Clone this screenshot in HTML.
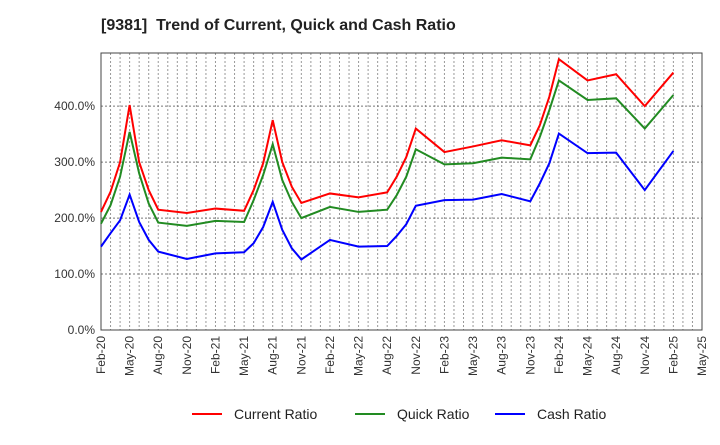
<!DOCTYPE html>
<html><head><meta charset="utf-8"><style>
body{margin:0;background:#fff;font-family:"Liberation Sans",sans-serif}
svg text{font-family:"Liberation Sans",sans-serif}
</style></head><body>
<svg id="chart" width="720" height="440" xmlns="http://www.w3.org/2000/svg">
<text x="101" y="30" font-size="16" font-weight="bold" fill="#222">[9381]&#160; Trend of Current, Quick and Cash Ratio</text>
<g id="grid"></g><g id="axes"></g><g id="series"></g>
<g>
<g><line x1="192" y1="414" x2="222" y2="414" stroke="#f00" stroke-width="2"/><text x="234" y="419" font-size="14" fill="#222">Current Ratio</text></g>
<g><line x1="355" y1="414" x2="385" y2="414" stroke="#228b22" stroke-width="2"/><text x="397" y="419" font-size="14" fill="#222">Quick Ratio</text></g>
<g><line x1="495" y1="414" x2="525" y2="414" stroke="#00f" stroke-width="2"/><text x="537" y="419" font-size="14" fill="#222">Cash Ratio</text></g>
</g>
</svg>
<script>
const monthIdx=[0,1,2,3,4,5,6,9,12,15,16,17,18,19,20,21,24,27,30,31,32,33,36,39,42,45,46,47,48,51,54,57,60];
const currentRatio=[211,247,300,402,300,250,215,209,217,213,250,298,375,300,256,227,244,237,246,274,309,360,318,328,339,330,366,417,484,446,457,400,460];
const quickRatio=[190,223,274,354,280,226,192,186,195,193,232,277,332,268,229,200,220,211,215,241,274,323,296,298,308,305,345,393,446,411,414,360,420];
const cashRatio=[149,173,196,242,193,161,140,127,137,139,155,184,229,179,146,126,161,149,150,168,189,222,232,233,243,230,262,298,351,316,317,250,320];
const yTicks=[0,100,200,300,400];
const xLabels=["Feb-20","May-20","Aug-20","Nov-20","Feb-21","May-21","Aug-21","Nov-21","Feb-22","May-22","Aug-22","Nov-22","Feb-23","May-23","Aug-23","Nov-23","Feb-24","May-24","Aug-24","Nov-24","Feb-25","May-25"];
const L=101,R=702,T=53,B=330,NM=63,YMAX=495;
const xs=m=>L+(R-L)*m/NM, ys=v=>B-(B-T)*v/YMAX;
const NS="http://www.w3.org/2000/svg";
function mk(p,t,a){const e=document.createElementNS(NS,t);for(const k in a)e.setAttribute(k,a[k]);p.appendChild(e);return e;}
const grid=document.getElementById('grid'),axes=document.getElementById('axes'),ser=document.getElementById('series');
for(let m=1;m<NM;m++){const g=mk(grid,'line',{x1:xs(m),x2:xs(m),y1:T,y2:B,stroke:'#999','stroke-dasharray':'2,2','stroke-width':1});

}
yTicks.forEach(v=>{if(v>0){const g=mk(grid,'line',{x1:L,x2:R,y1:ys(v),y2:ys(v),stroke:'#777','stroke-dasharray':'2,2','stroke-width':1});

}
const t=mk(axes,'text',{x:L-6,y:ys(v)+4,'text-anchor':'end','font-size':12,fill:'#333'});t.textContent=v.toFixed(1)+'%';

});
xLabels.forEach((s,i)=>{const x=xs(i*3);const t=mk(axes,'text',{x:0,y:0,'text-anchor':'end','font-size':12,fill:'#333',transform:`translate(${x+4},${B+6}) rotate(-90)`});t.textContent=s;

});
const fr=mk(axes,'rect',{x:L,y:T,width:R-L,height:B-T,fill:'none',stroke:'#444','stroke-width':1});


[[currentRatio,'#f00','current-ratio-line'],[quickRatio,'#228b22','quick-ratio-line'],[cashRatio,'#00f','cash-ratio-line']].forEach(([d,c,n])=>{
const p=mk(ser,'polyline',{points:d.map((v,i)=>xs(monthIdx[i])+','+ys(v)).join(' '),fill:'none',stroke:c,'stroke-width':2});

});
</script>
</body></html>
